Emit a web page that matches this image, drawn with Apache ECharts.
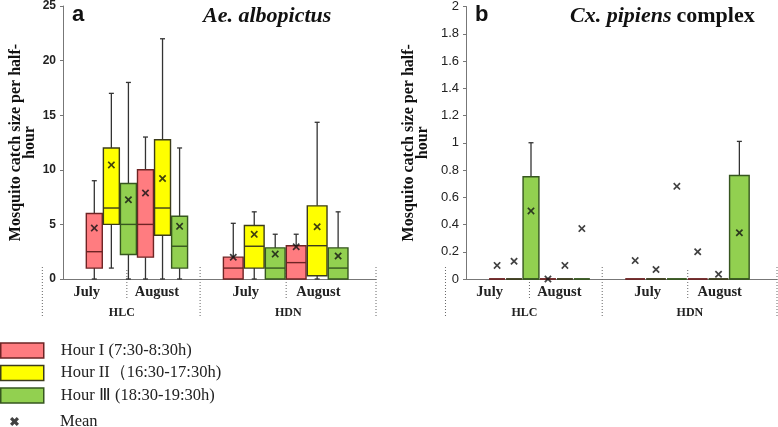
<!DOCTYPE html>
<html>
<head>
<meta charset="utf-8">
<script src="https://cdn.jsdelivr.net/npm/echarts@6/dist/echarts.min.js"></script>
<style>
  html, body { margin: 0; padding: 0; background: #fff; }
  #chart { width: 778px; height: 427px; }
</style>
</head>
<body>
<div id="chart"></div>
<script>
// groups on the x axis: HLC-July, HLC-August, HDN-July, HDN-August
const months = ['July', 'August'];
const sites = ['HLC', 'HDN'];
const hourNames = ['Hour I (7:30-8:30h)', 'Hour II（16:30-17:30h)', 'Hour Ⅲ (18:30-19:30h)'];

// Ae. albopictus boxes: [min, q1, median, q3, max] per group
const aeHour1 = [[0, 1, 2.5, 6, 9], [0, 2, 5, 10, 13], [0, 0, 1, 2, 5.1], [0, 0, 1.5, 3.05, 4.1]];
const aeHour2 = [[1, 5, 6.5, 12, 17], [0, 4, 6.5, 12.75, 22], [0, 1, 3, 4.9, 6.15], [0, 0.3, 3.05, 6.7, 14.35]];
const aeHour3 = [[0, 2.25, 5, 8.75, 18], [0, 1, 3, 5.75, 12], [0, 0, 1, 2.85, 4.1], [0, 0, 1, 2.85, 6.15]];
const aeMean1 = [4.66, 7.87, 1.99, 2.95];
const aeMean2 = [10.45, 9.2, 4.09, 4.79];
const aeMean3 = [7.26, 4.82, 2.28, 2.1];

// Cx. pipiens complex
const cxHour1 = [[0, 0, 0, 0, 0], [0, 0, 0, 0, 0], [0, 0, 0, 0, 0], [0, 0, 0, 0, 0]];
const cxHour2 = [[0, 0, 0, 0, 0], [0, 0, 0, 0, 0], [0, 0, 0, 0, 0], [0, 0, 0, 0, 0]];
const cxHour3 = [[0, 0, 0, 0.75, 1.0], [0, 0, 0, 0, 0], [0, 0, 0, 0, 0], [0, 0, 0, 0.76, 1.01]];
const cxMean1 = [0.1, 0, 0.135, 0.2];
const cxMean2 = [0.13, 0.1, 0.07, 0.035];
const cxMean3 = [0.5, 0.37, 0.68, 0.34];

const aeAxis = { min: 0, max: 25, interval: 5 };
const cxAxis = { min: 0, max: 2, interval: 0.2 };

const fills = ['#ff7c80', '#ffff00', '#92d050'];
const strokes = ['#6e2424', '#3c3c1c', '#36561f'];

// x layout in percent of plot width
const siteStart = [10, 54.4];
const siteStep = [5.45, 6.7];
const boxW = [5.1, 6.3];

function slotX(g, h) {
  const site = g >> 1, month = g & 1;
  return siteStart[site] + (month * 3 + h) * siteStep[site];
}

function boxRender(h) {
  return function (params, api) {
    const x = api.value(0), site = api.value(6);
    const w = api.size([boxW[site], 0])[0];
    const lo = api.coord([x, api.value(1)]);
    const q1 = api.coord([x, api.value(2)]);
    const md = api.coord([x, api.value(3)]);
    const q3 = api.coord([x, api.value(4)]);
    const hi = api.coord([x, api.value(5)]);
    const cx = lo[0], cap = 2.5;
    const ws = { stroke: '#333', lineWidth: 1.3 };
    const kids = [];
    if (hi[1] < q3[1] - 0.5) {
      kids.push({ type: 'line', shape: { x1: cx, y1: hi[1], x2: cx, y2: q3[1] }, style: ws });
      kids.push({ type: 'line', shape: { x1: cx - cap, y1: hi[1], x2: cx + cap, y2: hi[1] }, style: ws });
    }
    if (lo[1] > q1[1] + 0.5) {
      kids.push({ type: 'line', shape: { x1: cx, y1: q1[1], x2: cx, y2: lo[1] }, style: ws });
      kids.push({ type: 'line', shape: { x1: cx - cap, y1: lo[1], x2: cx + cap, y2: lo[1] }, style: ws });
    }
    kids.push({
      type: 'rect',
      shape: { x: cx - w / 2, y: q3[1], width: w, height: q1[1] - q3[1] },
      style: { fill: fills[h], stroke: strokes[h], lineWidth: 1.4 }
    });
    kids.push({
      type: 'line',
      shape: { x1: cx - w / 2, y1: md[1], x2: cx + w / 2, y2: md[1] },
      style: { stroke: strokes[h], lineWidth: 1.4 }
    });
    return { type: 'group', children: kids };
  };
}

function frameRender(params, api) {
  const y0 = api.coord([0, 0])[1];
  const px = v => api.coord([v, 0])[0];
  const dot = { stroke: '#666', lineWidth: 1, lineDash: [1, 2] };
  const kids = [];
  [-6.6, 43.8, 100].forEach(v => {
    kids.push({ type: 'line', shape: { x1: px(v), y1: y0 - 12, x2: px(v), y2: y0 + 39 }, style: dot });
  });
  [20.4, 71.3].forEach(v => {
    kids.push({ type: 'line', shape: { x1: px(v), y1: y0 - 9, x2: px(v), y2: y0 + 21 }, style: dot });
  });
  const monthPos = [7.6, 30, 58.4, 81.6];
  monthPos.forEach((v, i) => {
    kids.push({ type: 'text', style: {
      text: months[i % 2], x: px(v), y: y0 + 13, align: 'center', verticalAlign: 'middle',
      fontFamily: 'Liberation Serif', fontWeight: 'bold', fontSize: 14.5, fill: '#222' } });
  });
  [18.8, 72].forEach((v, i) => {
    kids.push({ type: 'text', style: {
      text: sites[i], x: px(v), y: y0 + 34, align: 'center', verticalAlign: 'middle',
      fontFamily: 'Liberation Serif', fontWeight: 'bold', fontSize: 12, fill: '#222' } });
  });
  return { type: 'group', children: kids };
}

const meanPath = 'path://M0,1.6L1.6,0L5,3.4L8.4,0L10,1.6L6.6,5L10,8.4L8.4,10L5,6.6L1.6,10L0,8.4L3.4,5Z';
const meanLegendPath = 'path://M0,2.5L2.5,0L5,2.5L7.5,0L10,2.5L7.5,5L10,7.5L7.5,10L5,7.5L2.5,10L0,7.5L2.5,5Z';

function panelSeries(idx, boxes, means) {
  const out = [];
  boxes.forEach((rows, h) => {
    out.push({
      type: 'custom',
      name: hourNames[h],
      xAxisIndex: idx, yAxisIndex: idx,
      itemStyle: { color: fills[h], borderColor: strokes[h] },
      encode: { x: 0, y: [1, 2, 3, 4, 5] },
      data: rows.map((r, g) => [slotX(g, h)].concat(r, [g >> 1])),
      renderItem: boxRender(h),
      clip: false,
      z: 2
    });
  });
  const pts = [];
  means.forEach((m, h) => m.forEach((v, g) => pts.push([slotX(g, h), v])));
  out.push({
    type: 'scatter', name: 'Mean', xAxisIndex: idx, yAxisIndex: idx,
    symbol: meanPath, symbolSize: 7.5, itemStyle: { color: '#111' },
    data: pts, z: 4, silent: true
  });
  out.push({
    type: 'custom', xAxisIndex: idx, yAxisIndex: idx, silent: true, clip: false,
    data: [[0, 0]], renderItem: frameRender, z: 1
  });
  return out;
}

function yAxis(idx, ax, bold, size, gap) {
  return {
    type: 'value', gridIndex: idx, min: ax.min, max: ax.max, interval: ax.interval,
    name: 'Mosquito catch size per half-\nhour',
    nameLocation: 'middle', nameRotate: 90, nameGap: gap,
    nameTextStyle: { fontFamily: 'Liberation Serif', fontWeight: 'bold', fontSize: 16, lineHeight: 14, color: '#111' },
    axisLine: { show: true, lineStyle: { color: '#777', width: 1 } },
    axisTick: { show: true, length: 3, lineStyle: { color: '#777' } },
    splitLine: { show: false },
    axisLabel: { margin: 7, color: '#222', fontFamily: 'Liberation Sans', fontWeight: bold ? 'bold' : 'normal', fontSize: size }
  };
}

function xAxis(idx) {
  return {
    type: 'value', gridIndex: idx, min: 0, max: 100,
    axisLine: { show: true, onZero: false, lineStyle: { color: '#777', width: 1 } },
    axisTick: { show: false }, axisLabel: { show: false }, splitLine: { show: false }
  };
}

const chart = echarts.init(document.getElementById('chart'), null, { renderer: 'canvas' });
chart.setOption({
  animation: false,
  backgroundColor: '#fff',
  title: [
    { text: 'a', left: 72, top: 4, padding: 0, textStyle: { fontFamily: 'Liberation Sans', fontWeight: 'bold', fontSize: 22, color: '#111' } },
    { text: 'Ae. albopictus', left: 203, top: 5, padding: 0, textStyle: { fontFamily: 'Liberation Serif', fontWeight: 'bold', fontStyle: 'italic', fontSize: 22, color: '#111' } },
    { text: 'b', left: 475, top: 4, padding: 0, textStyle: { fontFamily: 'Liberation Sans', fontWeight: 'bold', fontSize: 22, color: '#111' } },
    { text: '{i|Cx. pipiens} {n|complex}', left: 570, top: 5, padding: 0,
      textStyle: { rich: {
        i: { fontFamily: 'Liberation Serif', fontWeight: 'bold', fontStyle: 'italic', fontSize: 22, color: '#111' },
        n: { fontFamily: 'Liberation Serif', fontWeight: 'bold', fontSize: 22, color: '#111' } } } }
  ],
  grid: [
    { left: 63, top: 6, width: 313, height: 273 },
    { left: 466, top: 6, width: 311, height: 273 }
  ],
  xAxis: [xAxis(0), xAxis(1)],
  yAxis: [yAxis(0, aeAxis, true, 12, 26), yAxis(1, cxAxis, false, 13, 36)],
  legend: [
    {
      orient: 'vertical', left: 0, top: 342, padding: 0, itemWidth: 43, itemHeight: 15, itemGap: 5.5,
      icon: 'rect',
      data: hourNames.map((n, h) => ({ name: n, itemStyle: { color: fills[h], borderColor: strokes[h], borderWidth: 1.5 } })),
      formatter: '{t|{name}}',
      textStyle: { rich: { t: { fontFamily: 'Liberation Serif', fontSize: 16.5, lineHeight: 15, color: '#222', padding: [0, 0, 0, 12] } } }
    },
    {
      orient: 'vertical', left: 10, top: 413, padding: 0, itemWidth: 9, itemHeight: 9,
      data: [{ name: 'Mean', icon: meanLegendPath, itemStyle: { color: '#111' } }],
      formatter: '{t|{name}}',
      textStyle: { rich: { t: { fontFamily: 'Liberation Serif', fontSize: 16.5, lineHeight: 15, color: '#222', padding: [0, 0, 0, 36] } } }
    }
  ],
  series: panelSeries(0, [aeHour1, aeHour2, aeHour3], [aeMean1, aeMean2, aeMean3])
    .concat(panelSeries(1, [cxHour1, cxHour2, cxHour3], [cxMean1, cxMean2, cxMean3]))
});
</script>
</body>
</html>
